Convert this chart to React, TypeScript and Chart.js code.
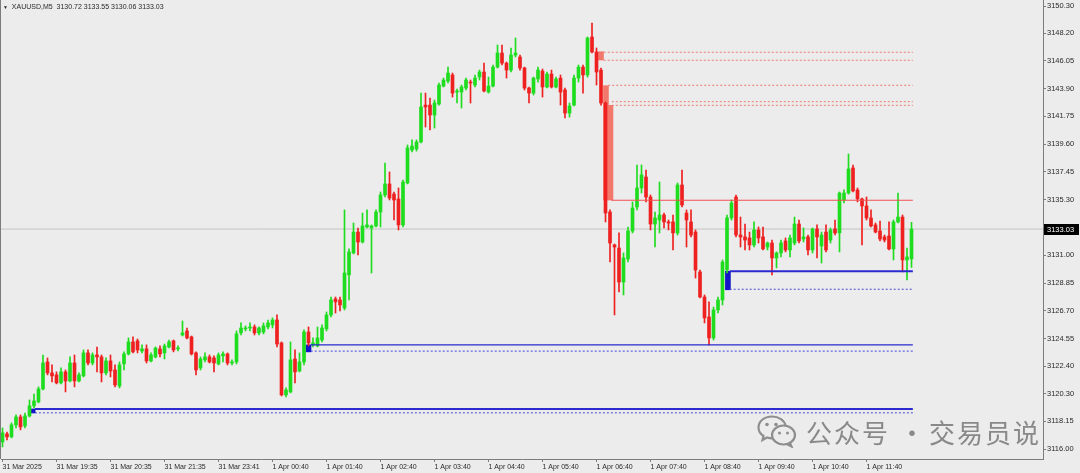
import React, { useEffect, useRef } from "react";
import { Chart, registerables } from "chart.js";

Chart.register(...registerables);

// ---------- data (XAUUSD M5 candles) ----------
const opens = [
  3116.55, 3117.17, 3116.94, 3117.87, 3118.48, 3117.79, 3118.56, 3119.34, 3119.65, 3120.65,
  3122.74, 3121.89, 3121.74, 3121.12, 3121.97, 3121.27, 3122.66, 3121.27, 3121.66, 3123.44,
  3122.66, 3123.28, 3123.13, 3121.89, 3122.82, 3122.12, 3120.88, 3122.59, 3123.36, 3124.29,
  3124.37, 3123.59, 3123.75, 3122.82, 3123.13, 3123.75, 3123.44, 3123.90, 3124.37, 3123.75,
  3124.83, 3125.14, 3124.68, 3123.44, 3122.28, 3122.90, 3123.13, 3123.05, 3122.59, 3123.21,
  3123.36, 3122.66, 3122.74, 3124.99, 3125.30, 3125.37, 3125.45, 3124.99, 3125.06, 3125.45,
  3125.61, 3125.99, 3124.21, 3120.19, 3120.42, 3122.97, 3122.04, 3122.74, 3125.06, 3124.06,
  3123.98, 3124.44, 3125.30, 3126.38, 3127.62, 3127.54, 3126.92, 3129.48, 3131.18, 3132.80,
  3132.03, 3133.19, 3133.11, 3133.27, 3134.35, 3135.67, 3136.52, 3135.74, 3135.36, 3133.35,
  3136.60, 3139.15, 3139.23, 3139.77, 3142.63, 3142.63, 3141.86, 3142.71, 3144.10, 3144.49,
  3144.96, 3143.64, 3143.64, 3143.95, 3144.41, 3144.18, 3144.80, 3145.19, 3143.64, 3144.10,
  3145.57, 3146.66, 3145.88, 3145.34, 3146.50, 3146.35, 3145.50, 3143.95, 3143.56, 3144.65,
  3145.26, 3144.03, 3145.03, 3144.03, 3144.72, 3143.80, 3142.01, 3142.63, 3144.72, 3145.57,
  3144.96, 3147.90, 3146.74, 3145.34, 3142.79, 3134.35, 3131.80, 3131.56, 3128.93, 3130.71,
  3132.88, 3134.74, 3136.21, 3137.06, 3135.51, 3133.42, 3133.73, 3134.12, 3133.58, 3133.58,
  3132.73, 3136.44, 3134.27, 3133.58, 3132.80, 3129.71, 3127.77, 3126.22, 3124.60, 3126.77,
  3127.54, 3129.86, 3133.89, 3135.51, 3132.57, 3132.42, 3132.34, 3131.80, 3132.96, 3132.42,
  3131.64, 3131.95, 3130.79, 3131.18, 3132.11, 3131.41, 3131.95, 3133.42, 3132.26, 3132.42,
  3131.41, 3133.04, 3131.72, 3132.80, 3132.18, 3133.04, 3132.73, 3135.28, 3135.82, 3137.76,
  3136.06, 3135.36, 3134.82, 3133.89, 3133.35, 3132.88, 3132.42, 3132.49, 3131.49, 3133.58,
  3133.96, 3130.64, 3130.72,
];
const highs = [
  3117.63, 3117.32, 3118.02, 3118.64, 3118.64, 3118.79, 3119.80, 3120.26, 3120.81, 3123.28,
  3123.05, 3122.51, 3121.97, 3122.28, 3122.12, 3123.13, 3123.28, 3121.89, 3123.67, 3123.67,
  3123.44, 3123.90, 3123.28, 3123.05, 3123.28, 3122.51, 3122.74, 3123.52, 3124.60, 3124.68,
  3124.52, 3124.06, 3124.06, 3123.44, 3123.90, 3123.98, 3124.13, 3124.44, 3124.44, 3123.98,
  3125.91, 3125.37, 3124.75, 3123.52, 3123.13, 3123.44, 3123.28, 3123.21, 3123.44, 3123.52,
  3123.44, 3122.90, 3125.14, 3125.76, 3125.53, 3125.76, 3125.61, 3125.45, 3125.76, 3125.99,
  3126.15, 3126.38, 3124.29, 3120.73, 3124.29, 3123.67, 3123.44, 3125.22, 3125.45, 3124.60,
  3125.45, 3125.61, 3126.61, 3127.77, 3127.77, 3127.77, 3134.51, 3131.49, 3133.50, 3133.11,
  3134.27, 3134.51, 3133.35, 3134.51, 3135.90, 3138.14, 3137.45, 3135.90, 3136.21, 3136.83,
  3139.54, 3139.93, 3139.93, 3143.56, 3143.56, 3143.17, 3143.02, 3144.34, 3144.72, 3145.57,
  3145.11, 3143.87, 3144.18, 3144.72, 3144.57, 3144.96, 3145.34, 3145.88, 3144.80, 3145.73,
  3147.28, 3147.28, 3145.96, 3147.05, 3147.82, 3146.50, 3145.57, 3144.03, 3144.80, 3145.57,
  3145.42, 3145.19, 3145.34, 3144.80, 3144.96, 3143.95, 3142.79, 3144.96, 3145.73, 3145.73,
  3147.90, 3148.98, 3147.05, 3145.50, 3142.87, 3134.51, 3131.87, 3132.73, 3131.18, 3133.19,
  3135.13, 3137.99, 3137.99, 3137.60, 3135.67, 3134.35, 3136.67, 3134.27, 3133.73, 3134.12,
  3136.60, 3137.60, 3134.51, 3134.51, 3132.96, 3129.86, 3127.93, 3127.39, 3126.99, 3127.77,
  3130.64, 3134.12, 3135.28, 3135.67, 3133.96, 3133.42, 3132.80, 3133.58, 3133.19, 3133.19,
  3132.03, 3132.18, 3131.26, 3132.18, 3132.34, 3132.57, 3133.96, 3133.73, 3133.11, 3132.57,
  3133.11, 3133.35, 3132.80, 3133.35, 3133.11, 3133.73, 3135.90, 3136.06, 3138.84, 3137.99,
  3136.21, 3135.43, 3135.51, 3134.51, 3133.50, 3133.65, 3132.57, 3133.58, 3133.73, 3135.82,
  3134.12, 3131.56, 3133.55,
];
const lows = [
  3116.16, 3116.70, 3116.86, 3117.63, 3117.48, 3117.63, 3118.48, 3119.18, 3119.57, 3120.57,
  3121.74, 3121.19, 3121.04, 3121.04, 3120.42, 3121.19, 3120.81, 3121.19, 3121.58, 3122.51,
  3122.51, 3121.97, 3121.19, 3121.74, 3121.58, 3120.81, 3120.73, 3122.12, 3123.28, 3123.44,
  3123.44, 3123.44, 3122.66, 3122.74, 3123.05, 3123.13, 3122.97, 3123.82, 3123.52, 3123.59,
  3124.75, 3124.52, 3123.28, 3121.74, 3122.12, 3122.74, 3122.66, 3121.97, 3122.51, 3122.74,
  3122.51, 3122.51, 3122.59, 3124.83, 3125.14, 3125.14, 3124.83, 3124.83, 3124.91, 3125.30,
  3125.37, 3123.90, 3120.11, 3120.03, 3120.34, 3121.12, 3121.97, 3122.51, 3123.98, 3123.90,
  3123.90, 3124.29, 3125.14, 3126.22, 3126.53, 3126.69, 3126.77, 3127.54, 3131.10, 3131.02,
  3131.95, 3133.11, 3129.63, 3133.19, 3133.19, 3135.51, 3135.28, 3133.73, 3132.96, 3133.19,
  3136.52, 3139.00, 3139.07, 3139.69, 3140.93, 3140.70, 3140.85, 3142.63, 3144.03, 3144.34,
  3143.25, 3142.79, 3142.40, 3143.80, 3142.79, 3144.03, 3144.57, 3143.64, 3143.56, 3144.03,
  3145.50, 3145.73, 3144.72, 3145.19, 3146.35, 3145.34, 3143.80, 3142.79, 3143.41, 3144.41,
  3143.25, 3143.95, 3143.95, 3143.95, 3142.63, 3141.63, 3141.70, 3142.56, 3144.41, 3143.56,
  3144.80, 3146.66, 3144.18, 3142.63, 3133.58, 3130.48, 3126.38, 3128.16, 3127.93, 3130.48,
  3132.73, 3134.51, 3135.82, 3135.13, 3132.96, 3131.64, 3132.73, 3133.11, 3132.96, 3131.41,
  3132.57, 3134.74, 3131.64, 3132.42, 3129.24, 3127.69, 3125.76, 3124.06, 3124.44, 3126.53,
  3127.15, 3129.63, 3133.73, 3132.42, 3131.64, 3131.41, 3131.41, 3131.64, 3131.95, 3131.41,
  3131.41, 3129.48, 3130.02, 3130.87, 3131.26, 3130.87, 3131.80, 3131.95, 3132.03, 3131.02,
  3131.18, 3130.79, 3130.40, 3131.26, 3131.95, 3132.57, 3131.26, 3135.05, 3135.74, 3135.90,
  3135.13, 3131.80, 3133.73, 3133.19, 3132.73, 3132.11, 3132.03, 3131.41, 3130.64, 3133.50,
  3129.71, 3129.09, 3130.06,
];
const closes = [
  3117.25, 3116.94, 3117.87, 3118.48, 3117.71, 3118.56, 3119.34, 3119.72, 3120.65, 3122.66,
  3121.89, 3121.66, 3121.12, 3121.97, 3121.27, 3122.66, 3121.27, 3121.74, 3123.44, 3122.66,
  3123.28, 3123.13, 3121.89, 3122.82, 3122.04, 3120.96, 3122.51, 3123.36, 3124.29, 3123.52,
  3123.67, 3123.75, 3122.82, 3123.28, 3123.82, 3123.36, 3123.98, 3124.29, 3123.67, 3123.82,
  3124.99, 3124.60, 3123.36, 3122.12, 3122.97, 3123.13, 3122.74, 3122.66, 3123.28, 3123.36,
  3122.66, 3122.74, 3124.91, 3125.37, 3125.37, 3125.45, 3124.99, 3125.37, 3125.53, 3125.76,
  3125.99, 3124.13, 3120.19, 3120.57, 3122.90, 3121.97, 3122.74, 3125.06, 3124.21, 3124.21,
  3124.60, 3125.37, 3126.38, 3127.54, 3127.39, 3127.15, 3129.63, 3131.26, 3132.80, 3132.03,
  3133.27, 3133.35, 3133.27, 3134.35, 3135.67, 3136.52, 3135.43, 3135.28, 3133.35, 3136.67,
  3139.31, 3139.46, 3139.77, 3142.48, 3142.48, 3141.86, 3142.79, 3144.18, 3144.57, 3145.11,
  3143.56, 3143.72, 3144.03, 3144.57, 3144.34, 3144.72, 3145.19, 3143.72, 3144.10, 3145.57,
  3146.66, 3145.88, 3145.34, 3146.50, 3146.66, 3145.50, 3143.95, 3143.56, 3144.72, 3145.34,
  3144.03, 3145.03, 3144.03, 3144.65, 3143.64, 3142.01, 3142.56, 3144.72, 3145.57, 3144.96,
  3147.82, 3146.74, 3145.19, 3142.79, 3134.27, 3131.95, 3131.64, 3128.93, 3130.79, 3132.88,
  3134.66, 3136.21, 3137.22, 3135.51, 3133.42, 3133.89, 3134.12, 3133.58, 3133.50, 3132.73,
  3136.44, 3134.89, 3133.73, 3132.57, 3129.86, 3127.77, 3126.15, 3124.60, 3126.77, 3127.54,
  3130.48, 3133.89, 3135.05, 3132.57, 3132.42, 3132.18, 3131.80, 3132.96, 3132.34, 3131.49,
  3131.95, 3130.79, 3131.18, 3131.95, 3131.41, 3132.34, 3133.42, 3132.11, 3132.42, 3131.41,
  3133.04, 3132.42, 3132.57, 3131.41, 3132.96, 3132.73, 3135.82, 3135.82, 3137.68, 3135.98,
  3135.36, 3134.82, 3133.89, 3133.27, 3132.80, 3132.26, 3132.18, 3131.49, 3133.58, 3133.96,
  3130.64, 3130.87, 3133.03,
];

// time-axis labels (bar index -> label)
const xTickIndex = [0, 12, 24, 36, 48, 60, 72, 84, 96, 108, 120, 132, 144, 156, 168, 180, 192];
const xTickLabels = [
  "31 Mar 2025", "31 Mar 19:35", "31 Mar 20:35", "31 Mar 21:35", "31 Mar 23:41",
  "1 Apr 00:40", "1 Apr 01:40", "1 Apr 02:40", "1 Apr 03:40", "1 Apr 04:40",
  "1 Apr 05:40", "1 Apr 06:40", "1 Apr 07:40", "1 Apr 08:40", "1 Apr 09:40",
  "1 Apr 10:40", "1 Apr 11:40",
];
const yTickValues = [
  3150.3, 3148.2, 3146.05, 3143.9, 3141.75, 3139.6, 3137.45, 3135.3,
  3131.0, 3128.85, 3126.7, 3124.55, 3122.4, 3120.3, 3118.15, 3116.0,
];

// visible window
const xMin = -0.333;
const xMax = 231.22;
const yMin = 3115.226;
const yMax = 3150.765;

// demand zones (blue): bar index, zone low/high, level line start
const blueZoneIdx = [6.7, 68.0, 161.2];
const blueZoneLow = [3118.79, 3123.52, 3128.33];
const blueZoneHigh = [3119.1, 3124.06, 3129.76];
const blueLineStart = [7.2, 68.5, 161.6];
const blueLinePrice = [3119.1, 3124.06, 3129.76];
const blueDotPrice = [3118.8, 3123.58, 3128.37];
// supply zones (red)
const redZoneIdx = [133.0, 134.1, 135.1];
const redZoneLow = [3146.12, 3135.28, 3135.28];
const redZoneHigh = [3146.76, 3144.13, 3142.61];
const redDotStart = [133.6, 133.6, 134.6, 135.4, 135.4];
const redDotPrice = [3146.72, 3146.1, 3144.16, 3142.89, 3142.61];
const redLineStart = 135.3;
const redLinePrice = 3135.26;
const levelEnd = 202.3;

// ---------- styling ----------
const GREEN = "#1EDC1E";
const RED = "#EE2020";
const BLUE = "#2A2ACF";
const AXIS = "#7C7C7C";
const TEXT = "#2a2a2a";

const last = closes.length - 1;

function buildConfig(): any {
  const candleColors = opens.map((o, i) => (closes[i] >= o ? GREEN : RED));
  const wicks = opens.map((_, i) => ({ x: i, y: [lows[i], highs[i]] }));
  const bodies = opens.map((o, i) => ({ x: i, y: [o, closes[i]] }));

  const lineDs = (x0: number, x1: number, y: number, color: string, width: number, dash: number[], order: number) => ({
    type: "line",
    data: [
      { x: x0, y },
      { x: x1, y },
    ],
    borderColor: color,
    borderWidth: width,
    borderDash: dash,
    pointRadius: 0,
    fill: false,
    order,
  });

  const datasets: any[] = [];
  datasets.push(lineDs(xMin, xMax, closes[last], "#C4C4C4", 1, [], 20));
  datasets.push({
    type: "bar",
    data: redZoneIdx.map((x, i) => ({ x, y: [redZoneLow[i], redZoneHigh[i]] })),
    backgroundColor: "#F3786C",
    borderWidth: 0,
    barThickness: 5,
    grouped: false,
    order: 15,
  });
  datasets.push({
    type: "bar",
    data: blueZoneIdx.map((x, i) => ({ x, y: [blueZoneLow[i], blueZoneHigh[i]] })),
    backgroundColor: "#1414C8",
    borderWidth: 0,
    barThickness: 5,
    grouped: false,
    order: 15,
  });
  datasets.push({
    type: "bar",
    data: wicks,
    backgroundColor: candleColors,
    borderWidth: 0,
    barThickness: 1,
    grouped: false,
    minBarLength: 1,
    order: 2,
  });
  datasets.push({
    type: "bar",
    data: bodies,
    backgroundColor: candleColors,
    borderWidth: 0,
    barThickness: 3,
    grouped: false,
    minBarLength: 1,
    order: 1,
  });
  blueLinePrice.forEach((p, i) => {
    datasets.push(lineDs(blueLineStart[i], levelEnd, p, BLUE, i === 1 ? 1.3 : 2, [], 0));
    datasets.push(lineDs(blueLineStart[i], levelEnd, blueDotPrice[i], "#4848D8", 1, [2, 2], 0));
  });
  redDotPrice.forEach((p, i) => {
    datasets.push(lineDs(redDotStart[i], levelEnd, p, "#F07A70", 1, [2, 2], 0));
  });
  datasets.push(lineDs(redLineStart, levelEnd, redLinePrice, "#F05050", 1, [], 0));

  const frame = {
    id: "frame",
    afterDraw(chart: any) {
      const { ctx, chartArea, scales } = chart;
      const py = Math.round(scales.y.getPixelForValue(closes[last]));
      ctx.save();
      ctx.strokeStyle = AXIS;
      ctx.lineWidth = 1;
      ctx.beginPath();
      ctx.moveTo(0.5, 0);
      ctx.lineTo(0.5, chartArea.bottom);
      ctx.stroke();
      ctx.fillStyle = "#000";
      ctx.fillRect(chartArea.right + 1, py - 5, 35, 11);
      ctx.fillStyle = "#fff";
      ctx.font = '7.5px "Liberation Sans", Arial, sans-serif';
      ctx.textBaseline = "middle";
      ctx.textAlign = "left";
      ctx.fillText(closes[last].toFixed(2), chartArea.right + 4, py + 0.5);
      ctx.restore();
    },
  };

  return {
    type: "bar",
    data: { datasets },
    plugins: [frame],
    options: {
      animation: false,
      responsive: false,
      events: [],
      layout: { padding: { left: 1, top: 0, right: 0, bottom: 0 }, autoPadding: false },
      plugins: { legend: { display: false }, tooltip: { enabled: false } },
      scales: {
        x: {
          type: "linear",
          min: xMin,
          max: xMax,
          offset: false,
          bounds: "data",
          grid: { display: true, offset: false, drawOnChartArea: false, drawTicks: true, tickLength: 3, color: AXIS },
          border: { display: true, color: AXIS },
          ticks: {
            autoSkip: false,
            maxRotation: 0,
            minRotation: 0,
            align: "start",
            padding: 1,
            color: TEXT,
            font: { family: '"Liberation Sans", Arial, sans-serif', size: 7 },
            callback: (_v: any, i: number) => xTickLabels[i] ?? "",
          },
          afterBuildTicks: (s: any) => {
            s.ticks = xTickIndex.map((v) => ({ value: v }));
          },
          afterFit: (s: any) => {
            s.height = 14;
            s.paddingLeft = 0;
            s.paddingRight = 0;
          },
        },
        y: {
          type: "linear",
          position: "right",
          min: yMin,
          max: yMax,
          bounds: "data",
          beginAtZero: false,
          grid: { display: true, drawOnChartArea: false, drawTicks: true, tickLength: 3, color: AXIS },
          border: { display: true, color: AXIS },
          ticks: {
            padding: 1,
            color: TEXT,
            font: { family: '"Liberation Sans", Arial, sans-serif', size: 7.5 },
            callback: (v: any) => Number(v).toFixed(2),
          },
          afterBuildTicks: (s: any) => {
            s.ticks = yTickValues.map((v) => ({ value: v }));
          },
          afterFit: (s: any) => {
            s.width = 37;
            s.paddingTop = 0;
            s.paddingBottom = 0;
          },
        },
      },
    },
  };
}

function WeChatLogo() {
  return (
    <svg width="42" height="34" viewBox="0 0 42 34" style={{ position: "absolute", left: 756, top: 414 }}>
      <g fill="none" stroke="#8E8E8E" strokeWidth="2.2">
        <path d="M16 2.5 C8 2.5 2.5 7.5 2.5 13.5 C2.5 17 4.5 20 7.5 22 L6.5 26 L11 23.5 C12.6 24 14.2 24.3 16 24.3" />
        <ellipse cx="27.5" cy="21" rx="11.5" ry="9.5" fill="#ECECEC" />
        <path d="M16 2.5 C23 2.5 28.5 6.5 29.5 11.5" />
        <path d="M34 29 L35.5 32.5 L31 30.3" />
      </g>
      <g fill="#8E8E8E">
        <circle cx="11" cy="10.5" r="1.8" />
        <circle cx="20" cy="10.5" r="1.8" />
        <circle cx="23.5" cy="19" r="1.5" />
        <circle cx="31.5" cy="19" r="1.5" />
      </g>
    </svg>
  );
}

const wmStyle: React.CSSProperties = {
  position: "absolute",
  top: 417,
  fontFamily: '"Noto Sans CJK SC", sans-serif',
  fontSize: 26,
  lineHeight: "30px",
  letterSpacing: 2,
  color: "rgba(128,128,128,0.92)",
  whiteSpace: "pre",
};

export default function App() {
  const ref = useRef<HTMLCanvasElement | null>(null);
  useEffect(() => {
    document.body.style.margin = "0";
    if (!ref.current) return;
    const chart = new Chart(ref.current, buildConfig());
    return () => chart.destroy();
  }, []);

  const title = `XAUUSD,M5  ${opens[last].toFixed(2)} ${highs[last].toFixed(2)} ${lows[last].toFixed(2)} ${closes[last].toFixed(2)}`;

  return (
    <div style={{ position: "relative", width: 1080, height: 473, background: "#ECECEC", overflow: "hidden" }}>
      <canvas ref={ref} width={1080} height={473} style={{ display: "block" }} />
      <div
        style={{
          position: "absolute",
          left: 3,
          top: 3,
          fontFamily: '"Liberation Sans", Arial, sans-serif',
          fontSize: 7,
          lineHeight: "8px",
          color: TEXT,
          whiteSpace: "pre",
        }}
      >
        <span style={{ fontSize: 5 }}>▼</span>
        {"  " + title}
      </div>
      <WeChatLogo />
      <div style={{ ...wmStyle, left: 806 }}>公众号</div>
      <div style={{ ...wmStyle, left: 899, letterSpacing: 0 }}>·</div>
      <div style={{ ...wmStyle, left: 929 }}>交易员说</div>
    </div>
  );
}
